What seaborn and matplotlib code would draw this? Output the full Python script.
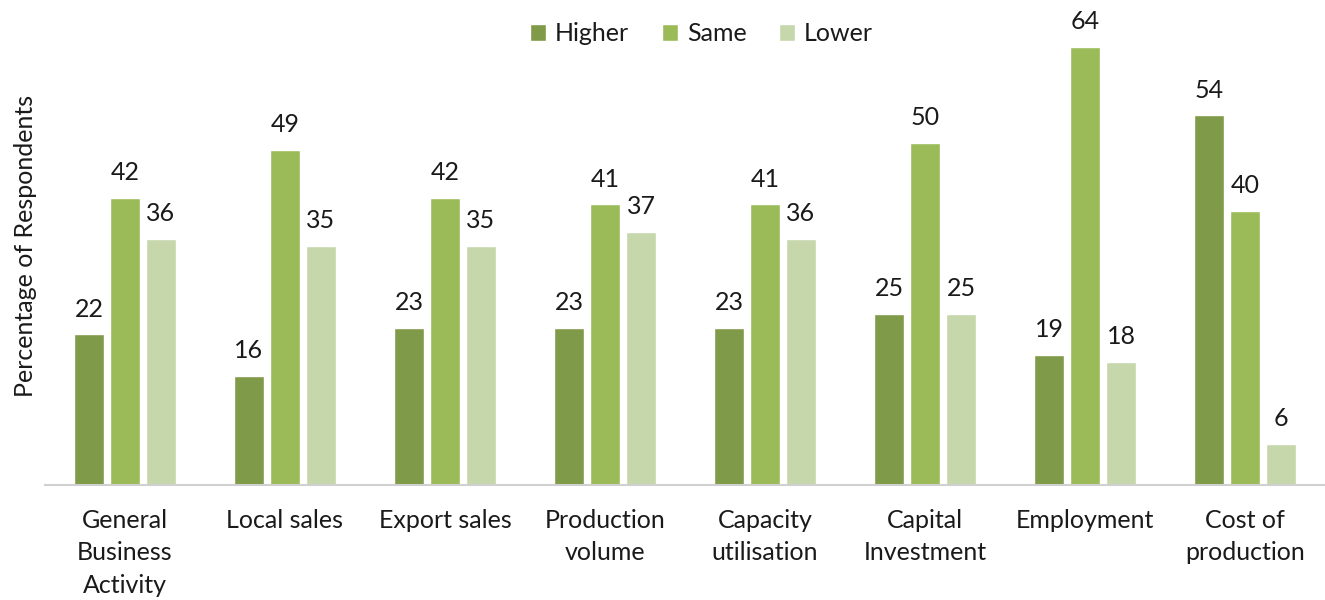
import matplotlib
matplotlib.use("Agg")
import matplotlib.pyplot as plt
import seaborn as sns
import pandas as pd

categories = ["General\nBusiness\nActivity", "Local sales", "Export sales", "Production\nvolume",
              "Capacity\nutilisation", "Capital\nInvestment", "Employment", "Cost of\nproduction"]
higher = [22, 16, 23, 23, 23, 25, 19, 54]
same = [42, 49, 42, 41, 41, 50, 64, 40]
lower = [36, 35, 35, 37, 36, 25, 18, 6]
series = ["Higher", "Same", "Lower"]
colors = ["#7F9A48", "#9BBB59", "#C6D7AC"]

df = pd.DataFrame({
    "category": categories * 3,
    "response": [s for s in series for _ in categories],
    "value": higher + same + lower,
})

sns.set_theme(style="white")
plt.rcParams["font.family"] = ["Lato", "DejaVu Sans"]

fig = plt.figure(figsize=(13.25, 6), dpi=100)
ax = fig.add_axes([45 / 1325, 1 - 485 / 600, 1280 / 1325, 479 / 600])

sns.barplot(data=df, x="category", y="value", hue="response", hue_order=series,
            palette=colors, width=0.675, gap=0.19, saturation=1, ax=ax,
            order=categories, legend=True)

for cont in ax.containers:
    ax.bar_label(cont, fmt="%d", padding=10, fontsize=18, color="#1a1a1a")

ax.set_ylim(0, 70)
ax.set_xlim(-0.5, len(categories) - 0.5)
ax.set_yticks([])
ax.set_xlabel("")
ax.set_ylabel("Percentage of Respondents", fontsize=18, color="#1a1a1a", labelpad=6)
ax.set_xticks(range(len(categories)), labels=categories, linespacing=1.5)
ax.tick_params(axis="x", length=0, pad=17, labelsize=18, colors="#1a1a1a")
for side in ["top", "right", "left"]:
    ax.spines[side].set_visible(False)
ax.spines["bottom"].set_color("#D0D0D0")
ax.spines["bottom"].set_linewidth(1.5)

leg = ax.legend(loc="upper center", bbox_to_anchor=(0.513, 1.013), ncol=3,
                frameon=False, fontsize=18, handlelength=0.65, handleheight=0.65,
                handletextpad=0.35, columnspacing=1.3)
for t in leg.get_texts():
    t.set_color("#1a1a1a")

fig.savefig("out.png", dpi=100)
